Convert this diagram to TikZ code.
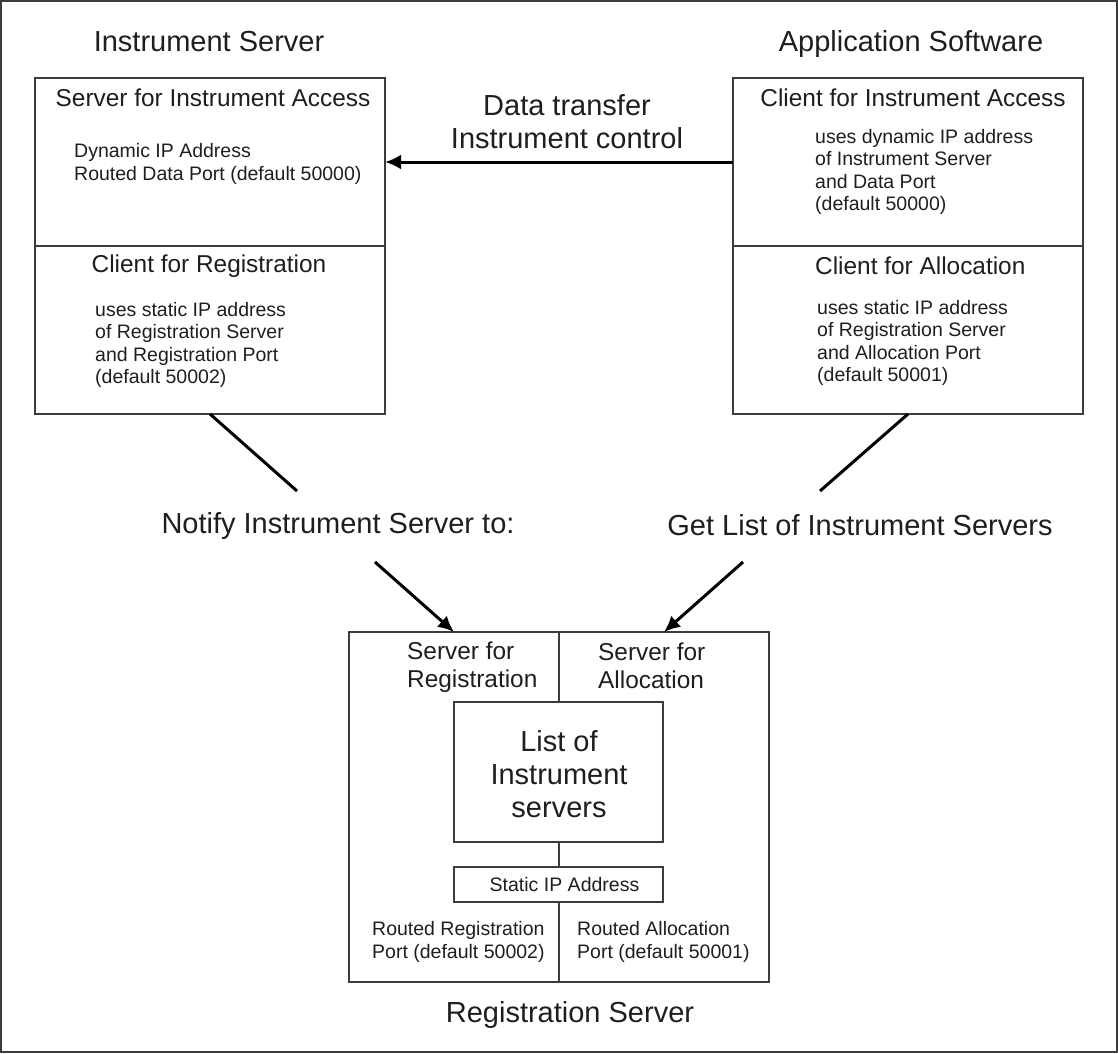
\documentclass[tikz,border=0pt]{standalone}
\usepackage{fontspec}
\setmainfont{Liberation Sans}
\usetikzlibrary{calc, arrows.meta}
\definecolor{mygray}{HTML}{3c3c3c}
\definecolor{mytext}{HTML}{1e1e1e}

\begin{document}
\begin{tikzpicture}[x=1pt, y=-1pt,
            box/.style={draw=mygray, line width=1.6pt, inner sep=0pt, outer sep=0pt},
            big/.style={text=mytext, inner sep=0pt, align=center, font=\fontsize{29}{33}\selectfont},
            mid/.style={text=mytext, inner sep=0pt, align=center, font=\fontsize{24.4}{28}\selectfont},
            small/.style={text=mytext, inner sep=0pt, align=left, anchor=west, font=\fontsize{19.5}{22.5}\selectfont},
            vec/.style={arrows={-Latex[length=16pt, width=15pt]}, line width=3pt},
            link/.style={line width=3pt}
        ]

        \useasboundingbox (0,0) rectangle (1118,1053);
        \draw[mygray, line width=1.6pt] (1,1) rectangle (1117,1052);

        % instrument server
        \node[big] (isTitle) at (209,42) {Instrument Server};
        \node[box, minimum width=350pt, minimum height=168pt] (isa) at (210,162) {};
        \node[box, minimum width=350pt, minimum height=168pt] (cfr) at (210,330) {};
        \node[mid] (isaTxt) at (213,98) {Server for Instrument Access};
        \node[small] (isaInfo) at (74,164) {Dynamic IP Address\\Routed Data Port (default 50000)};
        \node[mid] (cfrTxt) at (209,266) {Client for Registration};
        \node[small] (cfrInfo) at (95,345) {uses static IP address\\of Registration Server\\and Registration Port\\(default 50002)};

        % application software
        \node[big] (asTitle) at (911,44) {Application Software};
        \node[box, minimum width=350pt, minimum height=168pt] (cia) at (908,162) {};
        \node[box, minimum width=350pt, minimum height=168pt] (cfa) at (908,330) {};
        \node[mid] (ciaTxt) at (913,98) {Client for Instrument Access};
        \node[small] (ciaInfo) at (815,172) {uses dynamic IP address\\of Instrument Server\\and Data Port\\(default 50000)};
        \node[mid, anchor=west] (cfaTxt) at (815,266) {Client for Allocation};
        \node[small] (cfaInfo) at (817,343) {uses static IP address\\of Registration Server\\and Allocation Port\\(default 50001)};

        \node[big] (dataTxt) at (567,122) {Data transfer\\Instrument control};
        \draw[vec] (cia.west) -- (isa.east);

        % registration server
        \node[box, minimum width=210pt, minimum height=350pt] (sreg) at (454,807) {};
        \node[box, minimum width=210pt, minimum height=350pt] (salloc) at (664,807) {};
        \node[box, fill=white, minimum width=209pt, minimum height=140pt] (list) at (558.5,772) {};
        \node[big] (listTxt) at (559,774) {List of\\Instrument\\servers};
        \node[box, fill=white, minimum width=209pt, minimum height=35pt, text=mytext,
              font=\fontsize{19.5}{22.5}\selectfont] (static) at (558.5,884.5) {\hspace{12pt}Static IP Address};
        \node[mid, align=left, anchor=west] (sregTxt) at (407,667) {Server for\\Registration};
        \node[mid, align=left, anchor=west] (sallocTxt) at (598,666) {Server for\\Allocation};
        \node[small] (sregPort) at (372,942) {Routed Registration\\Port (default 50002)};
        \node[small] (sallocPort) at (577,942) {Routed Allocation\\Port (default 50001)};
        \node[big] (rsTitle) at (570,1015) {Registration Server};

        % notification and list requests
        \node[big] (notify) at (338,526) {Notify Instrument Server to:};
        \node[big] (getList) at (860,525) {Get List of Instrument Servers};

        \coordinate (n1) at (297,491);
        \coordinate (n2) at (820,491);
        \coordinate (n3) at (375,562);
        \coordinate (n4) at (743,562);

        \draw[link] (cfr.south) -- (n1);
        \draw[link] (cfa.south) -- (n2);
        \draw[vec] (n3) -- (sreg.north);
        \draw[vec] (n4) -- (salloc.north);
    \end{tikzpicture}
\end{document}
